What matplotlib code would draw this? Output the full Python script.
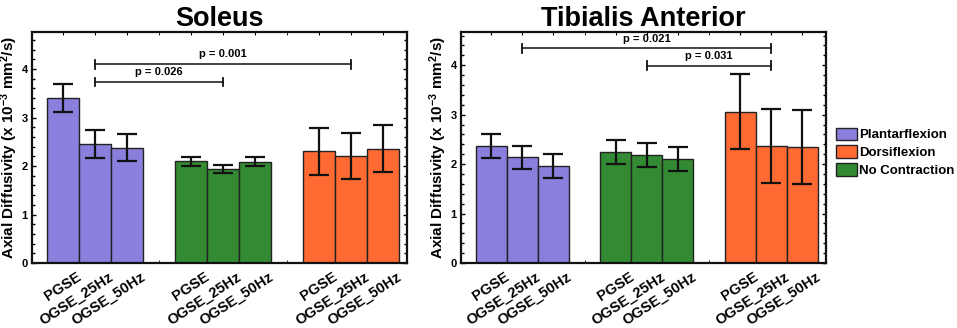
import matplotlib.pyplot as plt
import matplotlib.transforms as mtransforms
import numpy as np

plt.rcParams['font.family'] = ['Liberation Sans', 'DejaVu Sans']
plt.rcParams['font.weight'] = 'bold'
plt.rcParams['mathtext.fontset'] = 'custom'
plt.rcParams['mathtext.rm'] = 'Liberation Sans:bold'
plt.rcParams['mathtext.bf'] = 'Liberation Sans:bold'
plt.rcParams['mathtext.default'] = 'bf'

# data
seq_labels = ['PGSE', 'OGSE_25Hz', 'OGSE_50Hz']
groups = ['Plantarflexion', 'No Contraction', 'Dorsiflexion']
colors = {'Plantarflexion': '#8a7fdc', 'Dorsiflexion': '#ff6a33', 'No Contraction': '#338a33'}

sol_mean = {'Plantarflexion': [3.40, 2.45, 2.38],
            'No Contraction': [2.10, 1.94, 2.09],
            'Dorsiflexion': [2.30, 2.21, 2.36]}
sol_err = {'Plantarflexion': [0.29, 0.29, 0.28],
           'No Contraction': [0.09, 0.09, 0.09],
           'Dorsiflexion': [0.48, 0.48, 0.48]}

ta_mean = {'Plantarflexion': [2.37, 2.14, 1.96],
           'No Contraction': [2.25, 2.19, 2.11],
           'Dorsiflexion': [3.06, 2.37, 2.35]}
ta_err = {'Plantarflexion': [0.24, 0.235, 0.24],
          'No Contraction': [0.24, 0.24, 0.24],
          'Dorsiflexion': [0.76, 0.755, 0.755]}

# significance brackets: (group, seq index) -> (group, seq index), y, label
sol_sig = [(('Plantarflexion', 1), ('Dorsiflexion', 1), 4.10, 'p = 0.001'),
           (('Plantarflexion', 1), ('No Contraction', 1), 3.73, 'p = 0.026')]
ta_sig = [(('Plantarflexion', 1), ('Dorsiflexion', 1), 4.34, 'p = 0.021'),
          (('No Contraction', 1), ('Dorsiflexion', 1), 3.99, 'p = 0.031')]

fig = plt.figure(figsize=(9.57, 3.28), dpi=100)
ax1 = fig.add_axes([0.0334, 0.198, 0.392, 0.704])
ax2 = fig.add_axes([0.4817, 0.198, 0.3814, 0.704])


def xpos(g, i):
    return 1 + groups.index(g) * 4 + i


def draw(ax, means, errs, sigs, title, ymax):
    for g in groups:
        xs = [xpos(g, i) for i in range(3)]
        ax.bar(xs, means[g], width=1.0, color=colors[g], edgecolor='#222222',
               linewidth=1.0, label=g, zorder=2)
        ax.errorbar(xs, means[g], yerr=errs[g], fmt='none', ecolor='#111111',
                    elinewidth=1.6, capsize=7.5, capthick=1.6, zorder=3)
    for a, b, y, lab in sigs:
        x0 = xpos(*a)
        x1 = xpos(*b)
        ax.plot([x0, x1], [y, y], color='#111111', lw=1.1, zorder=3)
        for xx in (x0, x1):
            ax.plot([xx, xx], [y - 0.09, y + 0.09], color='#111111', lw=1.3, zorder=3)
        ax.text((x0 + x1) / 2, y + 0.1, lab, ha='center', va='bottom',
                fontsize=8, fontweight='bold')
    ax.set_xlim(0.03, 11.76)
    ax.set_ylim(0, ymax)
    ticks = [xpos(g, i) for g in groups for i in range(3)]
    ax.set_xticks(ticks)
    ax.set_xticks(np.arange(1, 12), minor=True)
    ax.set_yticks([0, 1, 2, 3, 4])
    ax.set_yticks(np.arange(0, ymax, 0.2), minor=True)
    ax.tick_params(axis='y', which='both', direction='in', right=True, labelsize=8, pad=3)
    ax.tick_params(axis='y', which='major', length=3, width=1)
    ax.tick_params(axis='y', which='minor', length=2, width=1)
    ax.tick_params(axis='x', which='both', direction='in', length=2, top=True, pad=5)
    ax.set_xticklabels(seq_labels * 3, rotation=33, ha='right', va='top',
                       rotation_mode='anchor', fontsize=10.5, fontweight='bold')
    shift = mtransforms.ScaledTranslation(13 / 100, 0, fig.dpi_scale_trans)
    for lab in ax.get_xticklabels():
        lab.set_transform(lab.get_transform() + shift)
    for s in ax.spines.values():
        s.set_linewidth(1.6)
        s.set_color('#111111')
    ax.set_ylabel('Axial Diffusivity (x 10$^{-3}$ mm$^{2}$/s)',
                  fontsize=11, fontweight='bold', labelpad=1)
    ax.set_title(title, fontsize=19.5, fontweight='bold', pad=4)


draw(ax1, sol_mean, sol_err, sol_sig, 'Soleus', 4.76)
draw(ax2, ta_mean, ta_err, ta_sig, 'Tibialis Anterior', 4.67)

handles, labs = ax2.get_legend_handles_labels()
order = [labs.index(n) for n in ['Plantarflexion', 'Dorsiflexion', 'No Contraction']]
ax2.legend([handles[i] for i in order], [labs[i] for i in order],
           loc='center left', bbox_to_anchor=(1.01, 0.48), frameon=False,
           fontsize=9.5, handlelength=1.6, handleheight=1.1, handletextpad=0.15,
           labelspacing=0.3, borderaxespad=0.3, borderpad=0.2)

fig.savefig('out.png', dpi=100)
